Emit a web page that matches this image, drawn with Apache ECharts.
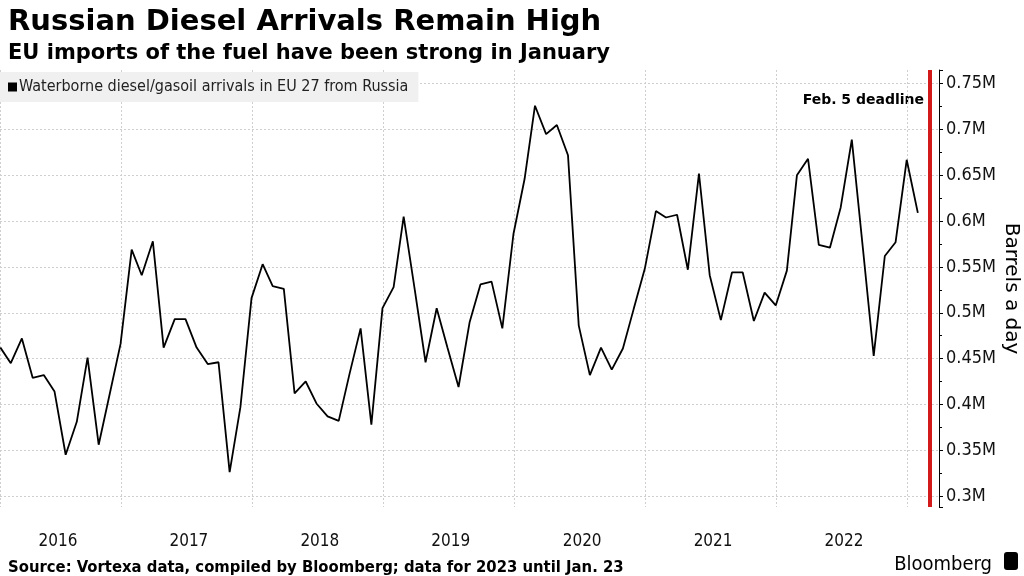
<!DOCTYPE html>
<html>
<head>
<meta charset="utf-8">
<script src="https://cdn.jsdelivr.net/npm/echarts@6/dist/echarts.min.js"></script>
<style>
html,body{margin:0;padding:0;background:#fff;}
#chart{width:1024px;height:576px;}
</style>
</head>
<body>
<div id="chart"></div>
<script>
const months = [
 '2016-01','2016-02','2016-03','2016-04','2016-05','2016-06','2016-07','2016-08','2016-09','2016-10','2016-11','2016-12',
 '2017-01','2017-02','2017-03','2017-04','2017-05','2017-06','2017-07','2017-08','2017-09','2017-10','2017-11','2017-12',
 '2018-01','2018-02','2018-03','2018-04','2018-05','2018-06','2018-07','2018-08','2018-09','2018-10','2018-11','2018-12',
 '2019-01','2019-02','2019-03','2019-04','2019-05','2019-06','2019-07','2019-08','2019-09','2019-10','2019-11','2019-12',
 '2020-01','2020-02','2020-03','2020-04','2020-05','2020-06','2020-07','2020-08','2020-09','2020-10','2020-11','2020-12',
 '2021-01','2021-02','2021-03','2021-04','2021-05','2021-06','2021-07','2021-08','2021-09','2021-10','2021-11','2021-12',
 '2022-01','2022-02','2022-03','2022-04','2022-05','2022-06','2022-07','2022-08','2022-09','2022-10','2022-11','2022-12',
 '2023-01'
];
// Barrels a day, millions
const arrivals = [
 0.462,0.445,0.472,0.429,0.432,0.414,0.345,0.381,0.451,0.356,0.410,0.466,
 0.569,0.541,0.578,0.462,0.493,0.493,0.462,0.444,0.446,0.326,0.397,0.516,
 0.553,0.529,0.526,0.412,0.425,0.401,0.387,0.382,0.433,0.483,0.378,0.505,
 0.528,0.605,0.525,0.446,0.505,0.462,0.419,0.490,0.531,0.534,0.483,0.586,
 0.646,0.726,0.695,0.705,0.672,0.486,0.432,0.462,0.438,0.461,0.504,0.548,
 0.611,0.604,0.607,0.547,0.652,0.541,0.492,0.544,0.544,0.491,0.522,0.508,
 0.546,0.650,0.668,0.574,0.571,0.615,0.689,0.570,0.453,0.562,0.577,0.667,
 0.609
];
const seriesName = 'Waterborne diesel/gasoil arrivals in EU 27 from Russia';
const deadlineDate = '2023-03-04';
const deadlineLabel = 'Feb. 5 deadline';
const xMin = '2016-01-30', xMax = '2023-03-31';
const yMin = 0.288, yMax = 0.765, yStep = 0.05;

function monthEnd(s){ const p = s.split('-'); return new Date(+p[0], +p[1], 0).getTime(); }
const data = months.map((m,i)=>[monthEnd(m), arrivals[i]]);

const COND = "'DejaVu Sans Condensed','DejaVu Sans',sans-serif";
const chart = echarts.init(document.getElementById('chart'));
chart.setOption({
  animation:false,
  backgroundColor:'#fff',
  title:[
    {text:'Russian Diesel Arrivals Remain High', left:3, top:3,
     textStyle:{fontFamily:"'DejaVu Sans',sans-serif", fontWeight:'bold', fontSize:29, color:'#000'}},
    {text:'EU imports of the fuel have been strong in January', left:3, top:38,
     textStyle:{fontFamily:"'DejaVu Sans',sans-serif", fontWeight:'bold', fontSize:21, color:'#000'}},
    {text:'Source: Vortexa data, compiled by Bloomberg; data for 2023 until Jan. 23', left:3, top:554,
     textStyle:{fontFamily:COND, fontWeight:'bold', fontSize:16.5, color:'#000'}},
    {text:'Bloomberg', right:27, top:550,
     textStyle:{fontFamily:COND, fontWeight:'normal', fontSize:20, color:'#000'}}
  ],
  legend:{
    left:0, top:72, padding:[7,10,7,8], backgroundColor:'#f0f0f0',
    icon:'rect', itemWidth:9, itemHeight:9, itemGap:4,
    textStyle:{fontFamily:COND, fontSize:16, color:'#222', padding:[0,0,0,-3]},
    data:[seriesName]
  },
  graphic:[
    {type:'text', right:100, top:93, style:{text:deadlineLabel, font:"bold 14px 'DejaVu Sans'", fill:'#000'}},
    {type:'rect', right:6, top:552, shape:{width:14, height:18, r:3}, style:{fill:'#000'}}
  ],
  grid:{left:0, right:85, top:70, bottom:69, containLabel:false, outerBoundsMode:'none'},
  xAxis:{
    type:'time', min:xMin, max:xMax,
    minInterval:365*24*3600*1000, maxInterval:366*24*3600*1000,
    axisLine:{show:false}, axisTick:{show:false},
    splitLine:{show:true, lineStyle:{color:'#cfcfcf', type:[2,2], width:1}},
    axisLabel:{
      showMinLabel:false, showMaxLabel:false,
      fontFamily:COND, fontSize:17, color:'#111', margin:26,
      padding:[0,126,0,0], align:'center',
      formatter:function(v){ const d=new Date(v); return (d.getMonth()===0 && d.getDate()===1) ? String(d.getFullYear()-1) : ''; }
    }
  },
  yAxis:{
    type:'value', position:'right', min:yMin, max:yMax, minInterval:yStep, maxInterval:yStep,
    name:'Barrels a day', nameLocation:'middle', nameRotate:-90, nameGap:62, nameMoveOverlap:false,
    nameTextStyle:{fontFamily:"'DejaVu Sans',sans-serif", fontSize:20, color:'#000'},
    axisLine:{show:true, lineStyle:{color:'#000', width:1}},
    axisTick:{show:true, length:4, lineStyle:{color:'#000'}},
    minorTick:{show:true, splitNumber:2, length:3, lineStyle:{color:'#000'}},
    splitLine:{show:true, showMinLine:false, showMaxLine:false, lineStyle:{color:'#cfcfcf', type:[2,2], width:1}},
    axisLabel:{fontFamily:COND, fontSize:18, color:'#111', margin:7,
      showMinLabel:false, showMaxLabel:false,
      formatter:function(v){ return (Math.round(v*100)/100) + 'M'; }}
  },
  series:[{
    name:seriesName, type:'line', data:data, showSymbol:false, symbol:'none',
    itemStyle:{color:'#000'}, lineStyle:{color:'#000', width:1.8},
    markLine:{silent:true, symbol:'none', label:{show:false},
      lineStyle:{color:'#d21a1a', width:4, type:'solid'},
      data:[{xAxis:deadlineDate}]}
  }]
});
</script>
</body>
</html>
